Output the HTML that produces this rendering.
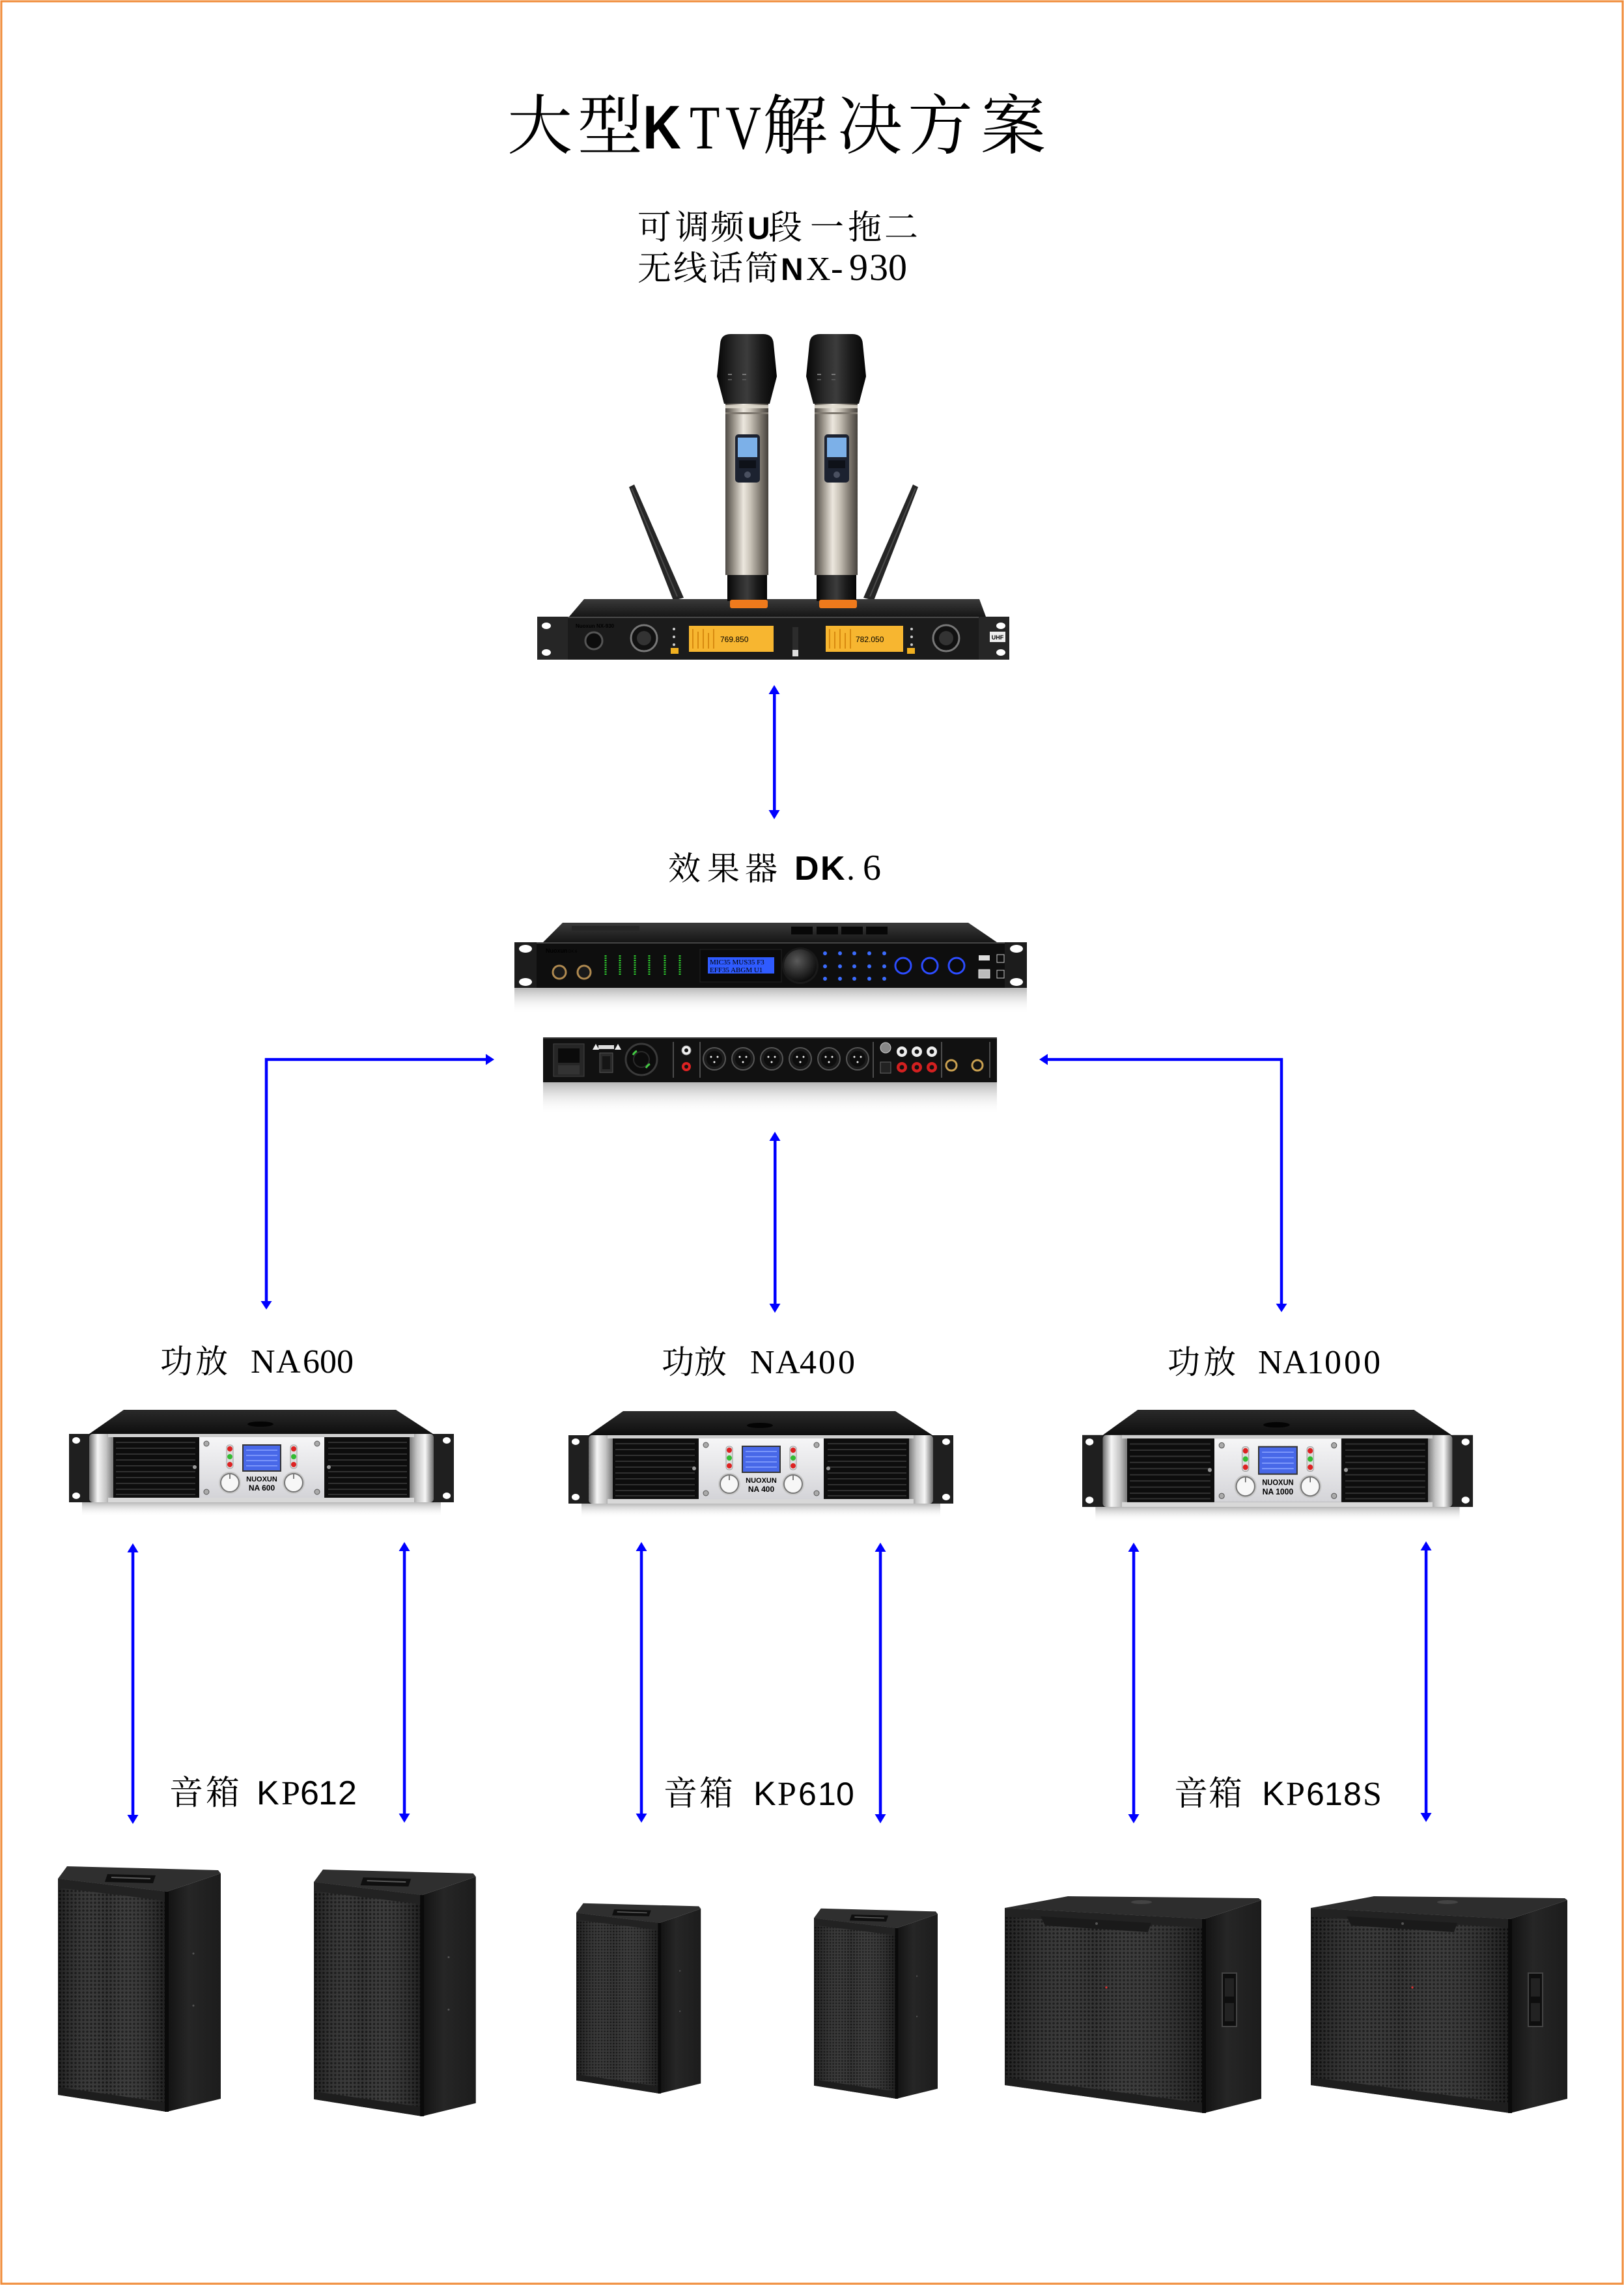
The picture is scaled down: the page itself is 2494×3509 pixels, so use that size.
<!DOCTYPE html>
<html><head><meta charset="utf-8">
<style>
html,body{margin:0;padding:0;background:#fff;}
svg{display:block;}
text{font-family:"Liberation Serif","Noto Serif CJK SC",serif;fill:#000;}
.sans{font-family:"Liberation Sans","Noto Sans CJK SC",sans-serif;}
.sb{font-family:"Liberation Sans","Noto Sans CJK SC",sans-serif;font-weight:bold;}
</style></head><body>
<svg xmlns="http://www.w3.org/2000/svg" xmlns:xlink="http://www.w3.org/1999/xlink" width="2494" height="3509" viewBox="0 0 2494 3509">
<defs>
  <linearGradient id="gMicHead" x1="0" x2="1" y1="0" y2="0">
    <stop offset="0" stop-color="#050505"/><stop offset="0.3" stop-color="#2a2a2a"/>
    <stop offset="0.5" stop-color="#3c3c3c"/><stop offset="0.75" stop-color="#1a1a1a"/>
    <stop offset="1" stop-color="#050505"/>
  </linearGradient>
  <linearGradient id="gMicBody" x1="0" x2="1" y1="0" y2="0">
    <stop offset="0" stop-color="#4e4a45"/><stop offset="0.2" stop-color="#9a948a"/>
    <stop offset="0.42" stop-color="#ece7de"/><stop offset="0.58" stop-color="#c9c3b8"/>
    <stop offset="0.82" stop-color="#7d776e"/><stop offset="1" stop-color="#45413c"/>
  </linearGradient>
  <linearGradient id="gTop" x1="0" x2="0" y1="0" y2="1">
    <stop offset="0" stop-color="#3a3a3a"/><stop offset="1" stop-color="#161616"/>
  </linearGradient>
  <linearGradient id="gAmpTop" x1="0" x2="0" y1="0" y2="1">
    <stop offset="0" stop-color="#2a2a2a"/><stop offset="1" stop-color="#0e0e0e"/>
  </linearGradient>
  <linearGradient id="gHandle" x1="0" x2="1" y1="0" y2="0">
    <stop offset="0" stop-color="#6a6a6a"/><stop offset="0.35" stop-color="#f6f6f6"/>
    <stop offset="0.7" stop-color="#c4c4c4"/><stop offset="1" stop-color="#7a7a7a"/>
  </linearGradient>
  <linearGradient id="gHandleR" x1="1" x2="0" y1="0" y2="0">
    <stop offset="0" stop-color="#6a6a6a"/><stop offset="0.35" stop-color="#f6f6f6"/>
    <stop offset="0.7" stop-color="#c4c4c4"/><stop offset="1" stop-color="#7a7a7a"/>
  </linearGradient>
  <linearGradient id="gPanel" x1="0" x2="0" y1="0" y2="1">
    <stop offset="0" stop-color="#f6f6f7"/><stop offset="1" stop-color="#d4d4d8"/>
  </linearGradient>
  <linearGradient id="gRefl" x1="0" x2="0" y1="0" y2="1">
    <stop offset="0" stop-color="#a0a0a0" stop-opacity="0.75"/><stop offset="1" stop-color="#ffffff" stop-opacity="0"/>
  </linearGradient>
  <linearGradient id="gSide" x1="0" x2="1" y1="0" y2="0">
    <stop offset="0" stop-color="#121212"/><stop offset="0.4" stop-color="#262626"/>
    <stop offset="1" stop-color="#1c1c1c"/>
  </linearGradient>
  <linearGradient id="gShade" x1="0" x2="1" y1="0" y2="0">
    <stop offset="0" stop-color="#000" stop-opacity="0.25"/><stop offset="0.45" stop-color="#fff" stop-opacity="0.04"/>
    <stop offset="1" stop-color="#000" stop-opacity="0.3"/>
  </linearGradient>
  <radialGradient id="gKnob" cx="0.4" cy="0.35" r="0.7">
    <stop offset="0" stop-color="#5a5a5a"/><stop offset="1" stop-color="#080808"/>
  </radialGradient>
  <pattern id="mesh" width="6" height="6" patternUnits="userSpaceOnUse">
    <rect width="6" height="6" fill="#2c2c2c"/><circle cx="3" cy="3" r="1.8" fill="#0e0e0e"/>
  </pattern>

  <g id="mic">
    <path d="M1106,528 Q1107,513 1122,513 L1172,513 Q1187,513 1188,528 L1193,578 L1182,620 L1112,620 L1101,578 Z" fill="url(#gMicHead)"/>
    <rect x="1118" y="574" width="6" height="2" fill="#777"/><rect x="1140" y="574" width="6" height="2" fill="#777"/>
    <rect x="1118" y="582" width="6" height="2" fill="#555"/><rect x="1140" y="582" width="6" height="2" fill="#555"/>
    <rect x="1114" y="620" width="66" height="263" fill="url(#gMicBody)"/>
    <rect x="1114" y="622" width="66" height="5" fill="#e4ded2" opacity="0.8"/>
    <rect x="1114" y="633" width="66" height="3" fill="#7e786f"/>
    <rect x="1129" y="667" width="38" height="74" rx="5" fill="#1c2230"/>
    <rect x="1133" y="672" width="30" height="30" fill="#7cb0e8"/>
    <rect x="1135" y="707" width="26" height="12" fill="#0e1118"/>
    <circle cx="1148" cy="729" r="5" fill="#4a5060"/>
    <rect x="1117" y="883" width="61" height="40" fill="url(#gMicHead)"/>
    <rect x="1121" y="921" width="58" height="13" rx="3" fill="#ef7a1c"/>
  </g>

  <g id="ampBase">
    <polygon points="84,0 502,0 559,37 31,37" fill="url(#gAmpTop)"/>
    <ellipse cx="294" cy="22" rx="20" ry="4" fill="#040404"/>
    <rect x="0" y="37" width="591" height="105" fill="#151515"/>
    <rect x="0" y="37" width="31" height="105" fill="#1f1f1f"/>
    <rect x="560" y="37" width="31" height="105" fill="#1f1f1f"/>
    <ellipse cx="11" cy="47" rx="6" ry="5" fill="#fff"/><ellipse cx="11" cy="132" rx="6" ry="5" fill="#fff"/>
    <ellipse cx="580" cy="47" rx="6" ry="5" fill="#fff"/><ellipse cx="580" cy="132" rx="6" ry="5" fill="#fff"/>
    <rect x="31" y="37" width="37" height="105" rx="5" fill="url(#gHandle)"/>
    <rect x="523" y="37" width="37" height="105" rx="5" fill="url(#gHandleR)"/>
    <rect x="60" y="37" width="470" height="5" fill="#cfcfcf"/>
    <rect x="60" y="135" width="470" height="7" fill="#d8d8d8"/>
    <rect x="68" y="42" width="131" height="93" fill="#0d0d0d"/>
    <rect x="393" y="42" width="130" height="93" fill="#0d0d0d"/>
    <g stroke="#313131" stroke-width="2">
      <line x1="72" y1="50" x2="194" y2="50"/><line x1="72" y1="59" x2="194" y2="59"/>
      <line x1="72" y1="68" x2="194" y2="68"/><line x1="72" y1="77" x2="194" y2="77"/>
      <line x1="72" y1="86" x2="194" y2="86"/><line x1="72" y1="95" x2="194" y2="95"/>
      <line x1="72" y1="104" x2="194" y2="104"/><line x1="72" y1="113" x2="194" y2="113"/>
      <line x1="72" y1="122" x2="194" y2="122"/><line x1="72" y1="130" x2="194" y2="130"/>
      <line x1="398" y1="50" x2="519" y2="50"/><line x1="398" y1="59" x2="519" y2="59"/>
      <line x1="398" y1="68" x2="519" y2="68"/><line x1="398" y1="77" x2="519" y2="77"/>
      <line x1="398" y1="86" x2="519" y2="86"/><line x1="398" y1="95" x2="519" y2="95"/>
      <line x1="398" y1="104" x2="519" y2="104"/><line x1="398" y1="113" x2="519" y2="113"/>
      <line x1="398" y1="122" x2="519" y2="122"/><line x1="398" y1="130" x2="519" y2="130"/>
    </g>
    <circle cx="193" cy="88" r="3" fill="#999"/><circle cx="399" cy="88" r="3" fill="#999"/>
    <rect x="200" y="42" width="192" height="93" fill="url(#gPanel)"/>
    <circle cx="211" cy="52" r="4" fill="#aaa" stroke="#555"/><circle cx="381" cy="52" r="4" fill="#aaa" stroke="#555"/>
    <circle cx="211" cy="126" r="4" fill="#aaa" stroke="#555"/><circle cx="381" cy="126" r="4" fill="#aaa" stroke="#555"/>
    <rect x="267" y="54" width="58" height="40" fill="#4868e8" stroke="#333" stroke-width="2"/>
    <g stroke="#8aa4ff" stroke-width="1.5">
      <line x1="272" y1="62" x2="320" y2="62"/><line x1="272" y1="70" x2="320" y2="70"/>
      <line x1="272" y1="78" x2="320" y2="78"/><line x1="272" y1="86" x2="320" y2="86"/>
    </g>
    <rect x="242" y="54" width="10" height="36" rx="4" fill="#ddd" stroke="#999"/>
    <rect x="340" y="54" width="10" height="36" rx="4" fill="#ddd" stroke="#999"/>
    <circle cx="247" cy="60" r="4" fill="#d22"/><circle cx="247" cy="72" r="4" fill="#3b3"/><circle cx="247" cy="84" r="4" fill="#d22"/>
    <circle cx="345" cy="60" r="4" fill="#d22"/><circle cx="345" cy="72" r="4" fill="#3b3"/><circle cx="345" cy="84" r="4" fill="#d22"/>
    <circle cx="247" cy="112" r="17" fill="#c8c8c8"/>
    <circle cx="247" cy="112" r="14" fill="#f7f7f7" stroke="#777" stroke-width="2"/>
    <circle cx="345" cy="112" r="17" fill="#c8c8c8"/>
    <circle cx="345" cy="112" r="14" fill="#f7f7f7" stroke="#777" stroke-width="2"/>
    <line x1="247" y1="99" x2="247" y2="106" stroke="#555" stroke-width="1.5"/>
    <line x1="345" y1="99" x2="345" y2="106" stroke="#555" stroke-width="1.5"/>
    <text x="296" y="110" font-size="11" font-weight="bold" text-anchor="middle" class="sb" fill="#222">NUOXUN</text>
    <rect x="20" y="142" width="551" height="22" fill="url(#gRefl)"/>
  </g>

  <g id="spkTall">
    <polygon points="167,40 250,12 250,358 167,378" fill="url(#gSide)"/>
    <polygon points="0,20 14,1 246,7 250,12 167,40" fill="#2f2f2f"/>
    <polygon points="76,13 150,15 146,27 72,25" fill="#0f0f0f"/>
    <line x1="82" y1="18" x2="142" y2="20" stroke="#5a5a5a" stroke-width="2"/>
    <polygon points="0,20 167,40 167,378 0,352" fill="url(#mesh)"/>
    <polygon points="0,20 167,40 167,378 0,352" fill="url(#gShade)"/>
    <polygon points="0,20 167,40 167,54 0,34" fill="#222"/>
    <polygon points="0,340 167,364 167,378 0,352" fill="#1d1d1d"/>
    <rect x="164" y="40" width="6" height="338" fill="#0a0a0a"/>
    <circle cx="208" cy="135" r="1.5" fill="#555"/><circle cx="208" cy="215" r="1.5" fill="#555"/>
  </g>

  <g id="spkSub">
    <polygon points="306,35 394,6 394,311 306,333" fill="url(#gSide)"/>
    <polygon points="0,18 97,0 390,3 394,6 306,35" fill="#2d2d2d"/>
    <ellipse cx="210" cy="9" rx="16" ry="3" fill="#444"/>
    <polygon points="0,18 306,35 306,333 0,290" fill="url(#mesh)"/>
    <polygon points="0,18 306,35 306,333 0,290" fill="url(#gShade)"/>
    <polygon points="0,18 306,35 306,48 0,32" fill="#222"/>
    <polygon points="55,31 225,41 220,55 62,45" fill="#1a1a1a"/>
    <circle cx="141" cy="42" r="2" fill="#555"/>
    <polygon points="0,278 306,318 306,333 0,290" fill="#1e1e1e"/>
    <rect x="303" y="35" width="6" height="298" fill="#0a0a0a"/>
    <rect x="334" y="118" width="22" height="82" fill="#0e0e0e" stroke="#444" stroke-width="2"/>
    <rect x="338" y="126" width="14" height="28" fill="#222"/>
    <rect x="338" y="164" width="14" height="28" fill="#222"/>
    <circle cx="156" cy="140" r="1.6" fill="#d33"/>
  </g>
</defs>

<rect x="2" y="2" width="2490" height="3505" fill="none" stroke="#f08c3a" stroke-width="3"/>

<!-- title -->
<text y="228" font-size="100"><tspan x="779">大</tspan><tspan x="887">型</tspan></text>
<text class="sb" font-size="95" transform="translate(987,228) scale(0.86,1)">K</text>
<text font-size="95" transform="translate(1059,228) scale(0.8,1)">T</text>
<text font-size="95" transform="translate(1114,228) scale(0.8,1)">V</text>
<text y="228" font-size="100"><tspan x="1171">解</tspan><tspan x="1286">决</tspan><tspan x="1394">方</tspan><tspan x="1506">案</tspan></text>

<!-- subtitle -->
<text y="367" font-size="52"><tspan x="979">可</tspan><tspan x="1037">调</tspan><tspan x="1091">频</tspan><tspan x="1148" class="sb" font-size="48">U</tspan><tspan x="1180">段</tspan><tspan x="1244">一</tspan><tspan x="1302">拖</tspan><tspan x="1358">二</tspan></text>
<text y="430" font-size="52"><tspan x="979">无</tspan><tspan x="1034">线</tspan><tspan x="1089">话</tspan><tspan x="1144">筒</tspan><tspan x="1199" class="sb" font-size="48">N</tspan><tspan x="1238" font-size="52">X</tspan><tspan x="1276" font-size="56">-</tspan><tspan x="1304" font-size="58">9</tspan><tspan x="1335" font-size="58">3</tspan><tspan x="1364" font-size="58">0</tspan></text>

<!-- antennas -->
<polygon points="966,748 974,744 1050,918 1034,922" fill="#262626"/>
<line x1="970" y1="750" x2="1040" y2="916" stroke="#4a4a4a" stroke-width="2"/>
<polygon points="1402,744 1410,748 1342,922 1326,918" fill="#262626"/>
<line x1="1406" y1="750" x2="1336" y2="916" stroke="#4a4a4a" stroke-width="2"/>

<!-- receiver -->
<polygon points="897,920 1504,920 1514,947 874,947" fill="url(#gTop)"/>
<rect x="825" y="947" width="725" height="66" fill="#1b1b1b"/>
<line x1="825" y1="948" x2="1550" y2="948" stroke="#4a4a4a" stroke-width="2"/>
<rect x="825" y="947" width="47" height="66" fill="#262626"/>
<rect x="1503" y="947" width="47" height="66" fill="#262626"/>
<ellipse cx="839" cy="961" rx="7" ry="5" fill="#fff"/><ellipse cx="839" cy="1002" rx="7" ry="5" fill="#fff"/>
<ellipse cx="1537" cy="961" rx="7" ry="5" fill="#fff"/><ellipse cx="1537" cy="1002" rx="7" ry="5" fill="#fff"/>
<text x="884" y="964" class="sb" font-size="8" fill="#ddd">Nuoxun NX-930</text>
<circle cx="912" cy="984" r="13" fill="#0c0c0c" stroke="#555" stroke-width="3"/>
<circle cx="989" cy="980" r="20" fill="#111" stroke="#777" stroke-width="3"/>
<circle cx="989" cy="980" r="11" fill="#333"/>
<circle cx="1035" cy="966" r="2" fill="#ccc"/><circle cx="1035" cy="978" r="2" fill="#ccc"/><circle cx="1035" cy="990" r="2" fill="#ccc"/>
<rect x="1030" y="995" width="12" height="9" fill="#f0b020"/>
<rect x="1058" y="961" width="130" height="40" fill="#f7b630"/>
<g stroke="#d88a10" stroke-width="2"><line x1="1064" y1="966" x2="1064" y2="996"/><line x1="1072" y1="970" x2="1072" y2="996"/><line x1="1080" y1="966" x2="1080" y2="996"/><line x1="1088" y1="972" x2="1088" y2="996"/><line x1="1096" y1="966" x2="1096" y2="996"/></g>
<text x="1106" y="986" font-size="12" class="sans" fill="#5a3000">769.850</text>
<rect x="1217" y="963" width="9" height="45" fill="#2c2c2c"/>
<rect x="1217" y="998" width="9" height="10" fill="#ddd"/>
<rect x="1268" y="961" width="119" height="40" fill="#f7b630"/>
<g stroke="#d88a10" stroke-width="2"><line x1="1274" y1="966" x2="1274" y2="996"/><line x1="1282" y1="970" x2="1282" y2="996"/><line x1="1290" y1="966" x2="1290" y2="996"/><line x1="1298" y1="972" x2="1298" y2="996"/><line x1="1306" y1="966" x2="1306" y2="996"/></g>
<text x="1314" y="986" font-size="12" class="sans" fill="#5a3000">782.050</text>
<circle cx="1400" cy="966" r="2" fill="#ccc"/><circle cx="1400" cy="978" r="2" fill="#ccc"/><circle cx="1400" cy="990" r="2" fill="#ccc"/>
<rect x="1393" y="995" width="12" height="9" fill="#f0b020"/>
<circle cx="1453" cy="980" r="20" fill="#111" stroke="#777" stroke-width="3"/>
<circle cx="1453" cy="980" r="11" fill="#333"/>
<rect x="1520" y="970" width="24" height="16" fill="#eee"/>
<text x="1532" y="982" font-size="9" class="sb" fill="#333" text-anchor="middle">UHF</text>

<use xlink:href="#mic"/>
<use xlink:href="#mic" transform="translate(137,0)"/>

<g fill="#0000ff">
  <rect x="1187" y="1064" width="4.5" height="182"/>
  <polygon points="1189,1052 1180.5,1066 1197.5,1066"/>
  <polygon points="1189,1258 1180.5,1244 1197.5,1244"/>
</g>

<text y="1351" font-size="50"><tspan x="1026">效</tspan><tspan x="1086">果</tspan><tspan x="1144">器</tspan><tspan x="1220" class="sb" font-size="52">D</tspan><tspan x="1260" class="sb" font-size="52">K</tspan><tspan x="1300" font-size="52">.</tspan><tspan x="1325" font-size="56">6</tspan></text>

<!-- effects front -->
<polygon points="864,1417 1487,1417 1531,1447 834,1447" fill="url(#gTop)"/>
<rect x="878" y="1422" width="104" height="7" fill="#262626"/>
<rect x="1215" y="1423" width="33" height="12" fill="#070707"/>
<rect x="1254" y="1423" width="33" height="12" fill="#070707"/>
<rect x="1292" y="1423" width="33" height="12" fill="#070707"/>
<rect x="1330" y="1423" width="33" height="12" fill="#070707"/>
<rect x="790" y="1447" width="787" height="70" fill="#0e0e0e"/>
<line x1="790" y1="1448" x2="1577" y2="1448" stroke="#444" stroke-width="2"/>
<rect x="790" y="1447" width="34" height="70" fill="#1c1c1c"/>
<rect x="1543" y="1447" width="34" height="70" fill="#1c1c1c"/>
<ellipse cx="807" cy="1457" rx="10" ry="6" fill="#fff"/><ellipse cx="807" cy="1508" rx="10" ry="6" fill="#fff"/>
<ellipse cx="1561" cy="1457" rx="10" ry="6" fill="#fff"/><ellipse cx="1561" cy="1508" rx="10" ry="6" fill="#fff"/>
<text x="838" y="1463" class="sb" font-size="9" fill="#eee">Nuoxun</text>
<text x="873" y="1463" class="sans" font-size="6" fill="#ccc">DK.6</text>
<circle cx="859" cy="1493" r="10" fill="#1a1a1a" stroke="#b08a50" stroke-width="3"/>
<circle cx="897" cy="1493" r="10" fill="#1a1a1a" stroke="#b08a50" stroke-width="3"/>
<g stroke="#2ecc2e" stroke-width="3" stroke-dasharray="2 1.5">
  <line x1="930" y1="1467" x2="930" y2="1497"/><line x1="952" y1="1467" x2="952" y2="1497"/>
  <line x1="975" y1="1467" x2="975" y2="1497"/><line x1="997" y1="1467" x2="997" y2="1497"/>
  <line x1="1021" y1="1467" x2="1021" y2="1497"/><line x1="1044" y1="1467" x2="1044" y2="1497"/>
</g>
<rect x="1075" y="1458" width="125" height="50" fill="#0a0a0a" stroke="#222"/>
<rect x="1087" y="1470" width="102" height="25" fill="#2f5bff"/>
<text x="1090" y="1481" font-family="Liberation Mono" font-size="11" fill="#b0ccff">MIC35 MUS35 F3</text>
<text x="1090" y="1493" font-family="Liberation Mono" font-size="11" fill="#b0ccff">EFF35 ABGM  U1</text>
<circle cx="1229" cy="1483" r="28" fill="#1a1a1a"/>
<circle cx="1229" cy="1483" r="25" fill="url(#gKnob)"/>
<g fill="#3c6cff">
  <circle cx="1267" cy="1464" r="3"/><circle cx="1290" cy="1464" r="3"/><circle cx="1312" cy="1464" r="3"/><circle cx="1335" cy="1464" r="3"/><circle cx="1358" cy="1464" r="3"/>
  <circle cx="1267" cy="1484" r="3"/><circle cx="1290" cy="1484" r="3"/><circle cx="1312" cy="1484" r="3"/><circle cx="1335" cy="1484" r="3"/><circle cx="1358" cy="1484" r="3"/>
  <circle cx="1267" cy="1503" r="3"/><circle cx="1290" cy="1503" r="3"/><circle cx="1312" cy="1503" r="3"/><circle cx="1335" cy="1503" r="3"/><circle cx="1358" cy="1503" r="3"/>
</g>
<g fill="#0a0a0a" stroke="#2c4cff" stroke-width="3">
  <circle cx="1387" cy="1483" r="12"/><circle cx="1428" cy="1483" r="12"/><circle cx="1469" cy="1483" r="12"/>
</g>
<rect x="1503" y="1467" width="17" height="8" fill="#ddd"/>
<rect x="1503" y="1489" width="17" height="13" fill="#bbb" stroke="#eee"/>
<rect x="1531" y="1466" width="11" height="12" fill="none" stroke="#ccc"/>
<rect x="1531" y="1490" width="11" height="12" fill="none" stroke="#ccc"/>
<rect x="790" y="1517" width="787" height="40" fill="url(#gRefl)"/>

<!-- effects back -->
<rect x="834" y="1593" width="697" height="69" fill="#111"/>
<line x1="834" y1="1594" x2="1531" y2="1594" stroke="#3a3a3a" stroke-width="2"/>
<rect x="850" y="1603" width="47" height="50" fill="#262626" stroke="#444"/>
<rect x="857" y="1610" width="33" height="22" fill="#0b0b0b"/>
<rect x="857" y="1636" width="33" height="14" fill="#333"/>
<rect x="919" y="1605" width="24" height="6" fill="#ddd"/>
<polygon points="910,1612 915,1603 920,1612" fill="#eee"/>
<polygon points="944,1612 949,1603 954,1612" fill="#eee"/>
<rect x="921" y="1617" width="20" height="30" fill="#2a2a2a" stroke="#555"/>
<rect x="925" y="1622" width="12" height="20" fill="#151515"/>
<circle cx="985" cy="1627" r="24" fill="#0c0c0c" stroke="#3a3a3a" stroke-width="3"/>
<circle cx="985" cy="1627" r="12" fill="none" stroke="#2a2a2a" stroke-width="2"/>
<path d="M972,1620 A14,14 0 0,1 978,1614 M992,1640 A14,14 0 0,1 998,1634" stroke="#4c4" stroke-width="3" fill="none"/>
<g stroke="#888" stroke-width="1">
  <line x1="1034" y1="1600" x2="1034" y2="1655"/><line x1="1075" y1="1600" x2="1075" y2="1655"/>
  <line x1="1341" y1="1600" x2="1341" y2="1655"/><line x1="1446" y1="1600" x2="1446" y2="1655"/>
  <line x1="1520" y1="1600" x2="1520" y2="1655"/>
</g>
<circle cx="1054" cy="1613" r="7" fill="#eee" stroke="#999"/><circle cx="1054" cy="1613" r="3" fill="#111"/>
<circle cx="1054" cy="1638" r="7" fill="#d22"/><circle cx="1054" cy="1638" r="3" fill="#111"/>
<g>
  <circle cx="1097" cy="1626" r="17" fill="#1b1b1b" stroke="#555" stroke-width="2"/><circle cx="1097" cy="1626" r="12" fill="#0d0d0d"/>
  <circle cx="1141" cy="1626" r="17" fill="#1b1b1b" stroke="#555" stroke-width="2"/><circle cx="1141" cy="1626" r="12" fill="#0d0d0d"/>
  <circle cx="1185" cy="1626" r="17" fill="#1b1b1b" stroke="#555" stroke-width="2"/><circle cx="1185" cy="1626" r="12" fill="#0d0d0d"/>
  <circle cx="1229" cy="1626" r="17" fill="#1b1b1b" stroke="#555" stroke-width="2"/><circle cx="1229" cy="1626" r="12" fill="#0d0d0d"/>
  <circle cx="1273" cy="1626" r="17" fill="#1b1b1b" stroke="#555" stroke-width="2"/><circle cx="1273" cy="1626" r="12" fill="#0d0d0d"/>
  <circle cx="1317" cy="1626" r="17" fill="#1b1b1b" stroke="#555" stroke-width="2"/><circle cx="1317" cy="1626" r="12" fill="#0d0d0d"/>
</g>
<g fill="#eee">
  <circle cx="1092" cy="1623" r="1.5"/><circle cx="1102" cy="1623" r="1.5"/><circle cx="1097" cy="1631" r="1.5"/>
  <circle cx="1136" cy="1623" r="1.5"/><circle cx="1146" cy="1623" r="1.5"/><circle cx="1141" cy="1631" r="1.5"/>
  <circle cx="1180" cy="1623" r="1.5"/><circle cx="1190" cy="1623" r="1.5"/><circle cx="1185" cy="1631" r="1.5"/>
  <circle cx="1224" cy="1623" r="1.5"/><circle cx="1234" cy="1623" r="1.5"/><circle cx="1229" cy="1631" r="1.5"/>
  <circle cx="1268" cy="1623" r="1.5"/><circle cx="1278" cy="1623" r="1.5"/><circle cx="1273" cy="1631" r="1.5"/>
  <circle cx="1312" cy="1623" r="1.5"/><circle cx="1322" cy="1623" r="1.5"/><circle cx="1317" cy="1631" r="1.5"/>
</g>
<circle cx="1360" cy="1609" r="8" fill="#888" stroke="#ccc"/>
<rect x="1352" y="1631" width="16" height="17" fill="#222" stroke="#666"/>
<g>
  <circle cx="1385" cy="1615" r="8" fill="#eee"/><circle cx="1385" cy="1615" r="3.5" fill="#111"/>
  <circle cx="1408" cy="1615" r="8" fill="#eee"/><circle cx="1408" cy="1615" r="3.5" fill="#111"/>
  <circle cx="1431" cy="1615" r="8" fill="#eee"/><circle cx="1431" cy="1615" r="3.5" fill="#111"/>
  <circle cx="1385" cy="1639" r="8" fill="#d32020"/><circle cx="1385" cy="1639" r="3.5" fill="#111"/>
  <circle cx="1408" cy="1639" r="8" fill="#d32020"/><circle cx="1408" cy="1639" r="3.5" fill="#111"/>
  <circle cx="1431" cy="1639" r="8" fill="#d32020"/><circle cx="1431" cy="1639" r="3.5" fill="#111"/>
</g>
<circle cx="1461" cy="1636" r="8" fill="#111" stroke="#c9a050" stroke-width="3"/>
<circle cx="1501" cy="1636" r="8" fill="#111" stroke="#c9a050" stroke-width="3"/>
<rect x="834" y="1662" width="697" height="50" fill="url(#gRefl)"/>

<g fill="#0000ff">
  <polygon points="759,1627 746,1618.5 746,1635.5"/>
  <polygon points="409,2011 400.5,1998 417.5,1998"/>
  <polygon points="1596,1627 1609,1618.5 1609,1635.5"/>
  <polygon points="1968,2015 1959.5,2002 1976.5,2002"/>
  <rect x="1188" y="1750" width="4.5" height="254"/>
  <polygon points="1190,1738 1181.5,1752 1198.5,1752"/>
  <polygon points="1190,2016 1181.5,2002 1198.5,2002"/>
</g>
<path d="M747,1627 H409 V1999" fill="none" stroke="#0000ff" stroke-width="4.5"/>
<path d="M1608,1627 H1968 V2003" fill="none" stroke="#0000ff" stroke-width="4.5"/>

<text y="2108" font-size="50"><tspan x="246">功</tspan><tspan x="300">放</tspan><tspan x="385" font-size="52">N</tspan><tspan x="424" font-size="52">A</tspan><tspan x="465" font-size="52">6</tspan><tspan x="491" font-size="52">0</tspan><tspan x="517" font-size="52">0</tspan></text>
<text y="2109" font-size="50"><tspan x="1016">功</tspan><tspan x="1066">放</tspan><tspan x="1152" font-size="52">N</tspan><tspan x="1191" font-size="52">A</tspan><tspan x="1228" font-size="52">4</tspan><tspan x="1257" font-size="52">0</tspan><tspan x="1287" font-size="52">0</tspan></text>
<text y="2109" font-size="50"><tspan x="1793">功</tspan><tspan x="1848">放</tspan><tspan x="1932" font-size="52">N</tspan><tspan x="1970" font-size="52">A</tspan><tspan x="2007" font-size="52">1</tspan><tspan x="2034" font-size="52">0</tspan><tspan x="2064" font-size="52">0</tspan><tspan x="2094" font-size="52">0</tspan></text>

<g transform="translate(106,2165)">
  <use xlink:href="#ampBase"/>
  <text x="296" y="124" font-size="12" class="sb" text-anchor="middle" fill="#222">NA 600</text>
</g>
<g transform="translate(873,2167)">
  <use xlink:href="#ampBase"/>
  <text x="296" y="124" font-size="12" class="sb" text-anchor="middle" fill="#222">NA 400</text>
</g>
<g transform="translate(1662,2165) scale(1.015,1.05)">
  <use xlink:href="#ampBase"/>
  <text x="296" y="124" font-size="12" class="sb" text-anchor="middle" fill="#222">NA 1000</text>
</g>

<g fill="#0000ff">
  <rect x="201.8" y="2382" width="4.5" height="407"/>
  <polygon points="204,2370 195.5,2384 212.5,2384"/><polygon points="204,2801 195.5,2787 212.5,2787"/>
  <rect x="618.8" y="2380" width="4.5" height="407"/>
  <polygon points="621,2368 612.5,2382 629.5,2382"/><polygon points="621,2799 612.5,2785 629.5,2785"/>
  <rect x="982.8" y="2380" width="4.5" height="407"/>
  <polygon points="985,2368 976.5,2382 993.5,2382"/><polygon points="985,2799 976.5,2785 993.5,2785"/>
  <rect x="1349.8" y="2381" width="4.5" height="407"/>
  <polygon points="1352,2369 1343.5,2383 1360.5,2383"/><polygon points="1352,2800 1343.5,2786 1360.5,2786"/>
  <rect x="1738.8" y="2381" width="4.5" height="407"/>
  <polygon points="1741,2369 1732.5,2383 1749.5,2383"/><polygon points="1741,2800 1732.5,2786 1749.5,2786"/>
  <rect x="2187.8" y="2379" width="4.5" height="407"/>
  <polygon points="2190,2367 2181.5,2381 2198.5,2381"/><polygon points="2190,2798 2181.5,2784 2198.5,2784"/>
</g>

<text y="2771" font-size="52"><tspan x="260">音</tspan><tspan x="316">箱</tspan><tspan x="394" class="sans">K</tspan><tspan x="432">P</tspan><tspan x="461" class="sans">6</tspan><tspan x="489" class="sans">1</tspan><tspan x="519" class="sans">2</tspan></text>
<text y="2772" font-size="52"><tspan x="1019">音</tspan><tspan x="1074">箱</tspan><tspan x="1157" class="sans">K</tspan><tspan x="1194">P</tspan><tspan x="1226" class="sans" font-size="50">6</tspan><tspan x="1256" class="sans" font-size="50">1</tspan><tspan x="1284" class="sans" font-size="50">0</tspan></text>
<text y="2772" font-size="52"><tspan x="1803">音</tspan><tspan x="1856">箱</tspan><tspan x="1938" class="sans">K</tspan><tspan x="1975">P</tspan><tspan x="2006" class="sans" font-size="50">6</tspan><tspan x="2034" class="sans" font-size="50">1</tspan><tspan x="2063" class="sans" font-size="50">8</tspan><tspan x="2093">S</tspan></text>

<use xlink:href="#spkTall" transform="translate(89,2865)"/>
<use xlink:href="#spkTall" transform="translate(482,2870) scale(0.995,1.005)"/>
<use xlink:href="#spkTall" transform="translate(885,2922) scale(0.765,0.775)"/>
<use xlink:href="#spkTall" transform="translate(1250,2930) scale(0.76,0.775)"/>
<use xlink:href="#spkSub" transform="translate(1543,2912)"/>
<use xlink:href="#spkSub" transform="translate(2013,2912)"/>
</svg>
</body></html>
